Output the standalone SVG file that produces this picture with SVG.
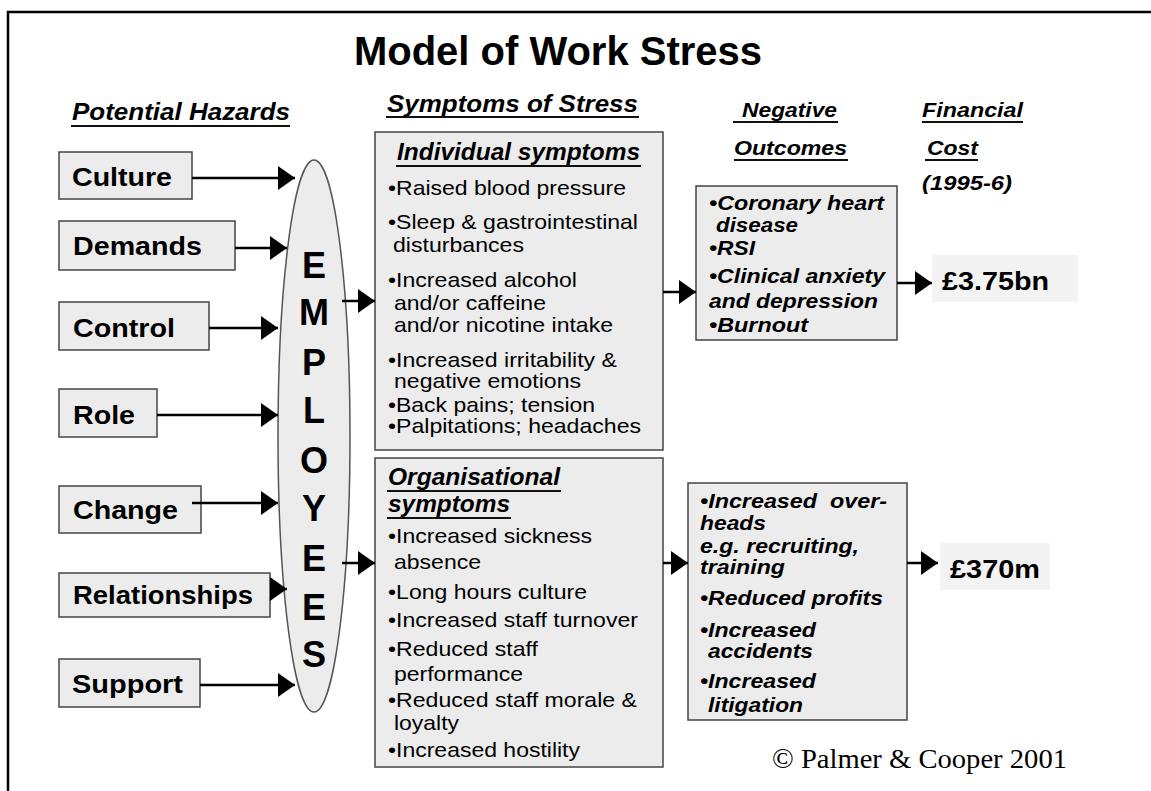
<svg xmlns="http://www.w3.org/2000/svg" width="1151" height="791" viewBox="0 0 1151 791">
<style>
text{font-family:"Liberation Sans",Arial,Helvetica,sans-serif;fill:#000}
.title{font-size:40px;font-weight:bold}
.head{font-weight:bold;font-style:italic;font-size:24px}
.sub{font-weight:bold;font-style:italic;font-size:21px}
.haz{font-weight:bold;font-size:26px}
.body{font-size:21px}
.out{font-weight:bold;font-style:italic;font-size:21px}
.emp{font-weight:bold;font-size:36px;text-anchor:middle}
.cost{font-weight:bold;font-size:26px}
.copy{font-family:"Liberation Serif","Times New Roman",serif;font-size:27px}
.box{fill:#ececec;stroke:#444;stroke-width:1.5}
.bg{fill:#f3f3f3}
.ul{stroke:#111;stroke-width:2}
.conn{stroke:#000;stroke-width:2.5;fill:none;marker-end:url(#ah)}
</style>
<defs>
<marker id="ah" markerUnits="userSpaceOnUse" markerWidth="17" markerHeight="24" refX="17" refY="12" orient="auto">
<path d="M0,0 L17,12 L0,24 Z" fill="#000"/>
</marker>
</defs>
<rect width="1151" height="791" fill="#fff"/>
<g id="frame">
<path d="M8,791 L8,12 L1151,12" fill="none" stroke="#000" stroke-width="2.5"/>
</g>
<g id="title">
<text class="title" x="558" y="65" text-anchor="middle">Model of Work Stress</text>
</g>
<g id="headings">
<text class="head" x="72" y="120" textLength="218" lengthAdjust="spacingAndGlyphs">Potential Hazards</text>
<line class="ul" x1="71" y1="126" x2="290" y2="126"/>
<text class="head" x="387" y="112" textLength="251" lengthAdjust="spacingAndGlyphs">Symptoms of Stress</text>
<line class="ul" x1="386" y1="117" x2="639" y2="117"/>
<text class="sub" x="742" y="117" textLength="95" lengthAdjust="spacingAndGlyphs">Negative</text>
<line class="ul" x1="733" y1="122" x2="838" y2="122"/>
<text class="sub" x="734" y="155" textLength="113" lengthAdjust="spacingAndGlyphs">Outcomes</text>
<line class="ul" x1="734" y1="160" x2="848" y2="160"/>
<text class="sub" x="922" y="117" textLength="101" lengthAdjust="spacingAndGlyphs">Financial</text>
<line class="ul" x1="922" y1="122" x2="1023" y2="122"/>
<text class="sub" x="927" y="155" textLength="51" lengthAdjust="spacingAndGlyphs">Cost</text>
<line class="ul" x1="925" y1="160" x2="978" y2="160"/>
<text class="sub" x="922" y="190" textLength="90" lengthAdjust="spacingAndGlyphs">(1995-6)</text>
</g>
<g id="hazard-culture">
<rect class="box" x="59" y="152" width="133" height="47"/>
<text class="haz" x="72" y="186" textLength="100" lengthAdjust="spacingAndGlyphs">Culture</text>
</g>
<g id="hazard-demands">
<rect class="box" x="59" y="221" width="176" height="49"/>
<text class="haz" x="73" y="255" textLength="129" lengthAdjust="spacingAndGlyphs">Demands</text>
</g>
<g id="hazard-control">
<rect class="box" x="59" y="302" width="150" height="48"/>
<text class="haz" x="73" y="337" textLength="102" lengthAdjust="spacingAndGlyphs">Control</text>
</g>
<g id="hazard-role">
<rect class="box" x="59" y="389" width="98" height="48"/>
<text class="haz" x="73" y="424" textLength="62" lengthAdjust="spacingAndGlyphs">Role</text>
</g>
<g id="hazard-change">
<rect class="box" x="59" y="486" width="142" height="47"/>
<text class="haz" x="73" y="519" textLength="105" lengthAdjust="spacingAndGlyphs">Change</text>
</g>
<g id="hazard-relationships">
<rect class="box" x="59" y="573" width="211" height="44"/>
<text class="haz" x="73" y="604" textLength="180" lengthAdjust="spacingAndGlyphs">Relationships</text>
</g>
<g id="hazard-support">
<rect class="box" x="59" y="659" width="141" height="48"/>
<text class="haz" x="72" y="693" textLength="111" lengthAdjust="spacingAndGlyphs">Support</text>
</g>
<g id="employees">
<ellipse cx="314" cy="436" rx="36" ry="276" fill="#ececec" stroke="#555" stroke-width="1.5"/>
<text class="emp" x="314" y="278">E</text>
<text class="emp" x="314" y="325">M</text>
<text class="emp" x="314" y="375">P</text>
<text class="emp" x="314" y="423">L</text>
<text class="emp" x="314" y="473">O</text>
<text class="emp" x="314" y="521">Y</text>
<text class="emp" x="314" y="571">E</text>
<text class="emp" x="314" y="620">E</text>
<text class="emp" x="314" y="667">S</text>
</g>
<g id="individual-symptoms">
<rect class="box" x="375" y="132" width="288" height="318"/>
<text class="head" x="397" y="160" font-size="23" textLength="243" lengthAdjust="spacingAndGlyphs">Individual symptoms</text>
<line class="ul" x1="396" y1="166" x2="641" y2="166"/>
<text class="body" x="388" y="195" textLength="238" lengthAdjust="spacingAndGlyphs">•Raised blood pressure</text>
<text class="body" x="388" y="229" textLength="250" lengthAdjust="spacingAndGlyphs">•Sleep &amp; gastrointestinal</text>
<text class="body" x="393" y="252" textLength="131" lengthAdjust="spacingAndGlyphs">disturbances</text>
<text class="body" x="388" y="287" textLength="189" lengthAdjust="spacingAndGlyphs">•Increased alcohol</text>
<text class="body" x="394" y="310" textLength="152" lengthAdjust="spacingAndGlyphs">and/or caffeine</text>
<text class="body" x="394" y="332" textLength="219" lengthAdjust="spacingAndGlyphs">and/or nicotine intake</text>
<text class="body" x="388" y="367" textLength="229" lengthAdjust="spacingAndGlyphs">•Increased irritability &amp;</text>
<text class="body" x="394" y="388" textLength="187" lengthAdjust="spacingAndGlyphs">negative emotions</text>
<text class="body" x="388" y="412" textLength="207" lengthAdjust="spacingAndGlyphs">•Back pains; tension</text>
<text class="body" x="388" y="433" textLength="253" lengthAdjust="spacingAndGlyphs">•Palpitations; headaches</text>
</g>
<g id="organisational-symptoms">
<rect class="box" x="375" y="458" width="288" height="309"/>
<text class="head" x="388" y="485" font-size="23" textLength="172" lengthAdjust="spacingAndGlyphs">Organisational</text>
<line class="ul" x1="387" y1="491" x2="561" y2="491"/>
<text class="head" x="388" y="512" font-size="23" textLength="122" lengthAdjust="spacingAndGlyphs">symptoms</text>
<line class="ul" x1="387" y1="518" x2="511" y2="518"/>
<text class="body" x="388" y="543" textLength="204" lengthAdjust="spacingAndGlyphs">•Increased sickness</text>
<text class="body" x="394" y="569" textLength="87" lengthAdjust="spacingAndGlyphs">absence</text>
<text class="body" x="388" y="599" textLength="199" lengthAdjust="spacingAndGlyphs">•Long hours culture</text>
<text class="body" x="388" y="627" textLength="250" lengthAdjust="spacingAndGlyphs">•Increased staff turnover</text>
<text class="body" x="388" y="656" textLength="150" lengthAdjust="spacingAndGlyphs">•Reduced staff</text>
<text class="body" x="394" y="681" textLength="129" lengthAdjust="spacingAndGlyphs">performance</text>
<text class="body" x="388" y="707" textLength="249" lengthAdjust="spacingAndGlyphs">•Reduced staff morale &amp;</text>
<text class="body" x="394" y="730" textLength="65" lengthAdjust="spacingAndGlyphs">loyalty</text>
<text class="body" x="388" y="757" textLength="192" lengthAdjust="spacingAndGlyphs">•Increased hostility</text>
</g>
<g id="individual-outcomes">
<rect class="box" x="696" y="186" width="201" height="154"/>
<text class="out" x="709" y="210" textLength="175" lengthAdjust="spacingAndGlyphs">•Coronary heart</text>
<text class="out" x="716" y="232" textLength="82" lengthAdjust="spacingAndGlyphs">disease</text>
<text class="out" x="709" y="255" textLength="46" lengthAdjust="spacingAndGlyphs">•RSI</text>
<text class="out" x="709" y="283" textLength="176" lengthAdjust="spacingAndGlyphs">•Clinical anxiety</text>
<text class="out" x="709" y="308" textLength="169" lengthAdjust="spacingAndGlyphs">and depression</text>
<text class="out" x="709" y="332" textLength="99" lengthAdjust="spacingAndGlyphs">•Burnout</text>
</g>
<g id="organisational-outcomes">
<rect class="box" x="688" y="483" width="219" height="237"/>
<text class="out" x="700" y="508" textLength="187" lengthAdjust="spacingAndGlyphs" xml:space="preserve">•Increased  over-</text>
<text class="out" x="700" y="530" textLength="66" lengthAdjust="spacingAndGlyphs">heads</text>
<text class="out" x="700" y="553" textLength="159" lengthAdjust="spacingAndGlyphs">e.g. recruiting,</text>
<text class="out" x="700" y="574" textLength="85" lengthAdjust="spacingAndGlyphs">training</text>
<text class="out" x="700" y="605" textLength="183" lengthAdjust="spacingAndGlyphs">•Reduced profits</text>
<text class="out" x="700" y="637" textLength="116" lengthAdjust="spacingAndGlyphs">•Increased</text>
<text class="out" x="708" y="658" textLength="105" lengthAdjust="spacingAndGlyphs">accidents</text>
<text class="out" x="700" y="688" textLength="116" lengthAdjust="spacingAndGlyphs">•Increased</text>
<text class="out" x="708" y="712" textLength="95" lengthAdjust="spacingAndGlyphs">litigation</text>
</g>
<g id="cost-individual">
<rect class="bg" x="932" y="255" width="146" height="47"/>
<text class="cost" x="942" y="290" textLength="107" lengthAdjust="spacingAndGlyphs">£3.75bn</text>
</g>
<g id="cost-organisational">
<rect class="bg" x="940" y="543" width="110" height="47"/>
<text class="cost" x="950" y="578" textLength="90" lengthAdjust="spacingAndGlyphs">£370m</text>
</g>
<g id="copyright">
<text class="copy" x="772" y="768" textLength="295" lengthAdjust="spacingAndGlyphs">© Palmer &amp; Cooper 2001</text>
</g>
<g id="connectors">
<line class="conn" x1="192" y1="178" x2="295" y2="178"/>
<line class="conn" x1="235" y1="248" x2="287" y2="248"/>
<line class="conn" x1="209" y1="328" x2="278" y2="328"/>
<line class="conn" x1="157" y1="415" x2="278" y2="415"/>
<line class="conn" x1="192" y1="503" x2="278" y2="503"/>
<line class="conn" x1="270" y1="589" x2="287" y2="589"/>
<line class="conn" x1="200" y1="685" x2="295" y2="685"/>
<line class="conn" x1="342" y1="301" x2="375" y2="301"/>
<line class="conn" x1="342" y1="563" x2="375" y2="563"/>
<line class="conn" x1="663" y1="292" x2="696" y2="292"/>
<line class="conn" x1="897" y1="283" x2="932" y2="283"/>
<line class="conn" x1="663" y1="563" x2="688" y2="563"/>
<line class="conn" x1="907" y1="563" x2="938" y2="563"/>
</g>
</svg>
